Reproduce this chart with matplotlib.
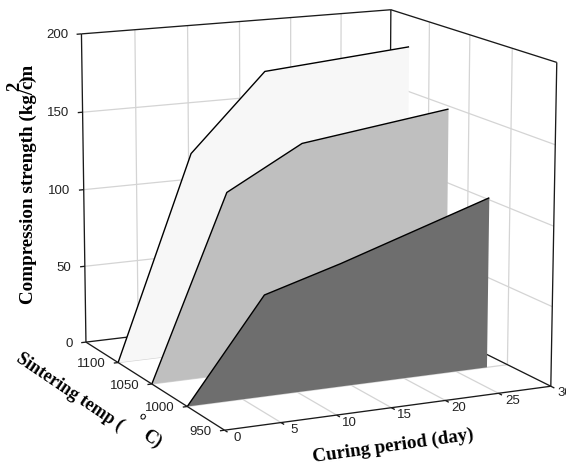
import numpy as np
import matplotlib
matplotlib.use("Agg")
import matplotlib.pyplot as plt
from mpl_toolkits.mplot3d.art3d import Poly3DCollection, Line3DCollection

# ---- data ----
curing_days = [0, 7, 14, 28]
strength_1100 = [0, 129, 177, 185]
strength_1050 = [0, 115, 141, 154]
strength_1000 = [0, 63, 77, 108]
series_temps = [1100, 1050, 1000]
temp_ticks = [950, 1000, 1050, 1100]
day_ticks = [0, 5, 10, 15, 20, 25, 30]
strength_ticks = [0, 50, 100, 150, 200]
series_colors = ["#F7F7F7", "#BFBFBF", "#6E6E6E"]

W, H = 566, 475
fig = plt.figure(figsize=(W / 100, H / 100), dpi=100, facecolor="white")
ax = fig.add_axes([0, -(W - H) / 2 / H, 1, W / H], projection="3d",
                  computed_zorder=False)
ax.set_axis_off()
ax.patch.set_alpha(0)
ax.apply_aspect()


def depth(t):
    """Depth axis position of a temperature (50 degree steps)."""
    return (t - 950) / 50.0


# ---- camera calibrated to the reference frame (data -> pixel) ----
calib = [
    (0, 4, 0, 86, 343), (0, 4, 200, 81, 34), (30, 4, 0, 388, 305),
    (30, 4, 200, 392, 10), (30, 0, 0, 551, 387), (30, 0, 200, 556, 62),
    (0, 0, 0, 224, 430), (0, 1, 0, 188, 406), (0, 3, 0, 118, 362),
    (15, 0, 0, 392, 408),
]
A, b = [], []
for x, y, z, u, v in calib:
    v = H - v
    A.append([x, y, z, 1, 0, 0, 0, 0, -u * x, -u * y, -u * z]); b.append(u)
    A.append([0, 0, 0, 0, x, y, z, 1, -v * x, -v * y, -v * z]); b.append(v)
p = np.linalg.lstsq(np.array(A, float), np.array(b, float), rcond=None)[0]
P = np.array([p[:4], p[4:8], [p[8], p[9], p[10], 1.0]])
T = ax.transData.inverted().get_matrix()
Q = T @ P
M = np.array([Q[0], Q[1], [0, 0.1, 0.001, 0.01], Q[2]])
ax.get_proj = lambda: M

GRID = "#D4D4D4"
FRAME = "#1A1A1A"
TICKC = "#222222"


def line(xs, ys, zs, c=FRAME, lw=0.95, zo=2):
    seg = Line3DCollection([list(zip(xs, ys, zs))], colors=c, linewidths=lw,
                           zorder=zo)
    ax.add_collection3d(seg, autolim=False)


# grids
for d in day_ticks[1:-1]:
    line([d, d], [4, 4], [0, 200], GRID, 0.9, 1)
    line([d, d], [0, 4], [0, 0], GRID, 0.9, 1)
for t in temp_ticks[1:]:
    k = depth(t)
    line([30, 30], [k, k], [0, 200], GRID, 0.9, 1)
    line([0, 30], [k, k], [0, 0], GRID, 0.9, 1)
for s in strength_ticks[1:-1]:
    line([0, 30], [4, 4], [s, s], GRID, 0.9, 1)
    line([30, 30], [0, 4], [s, s], GRID, 0.9, 1)

# back frame
line([0, 0], [4, 4], [0, 200], zo=2)
line([30, 30], [4, 4], [0, 200], zo=2)
line([30, 30], [0, 0], [0, 200], zo=2)
line([0, 30], [4, 4], [200, 200], zo=2)
line([30, 30], [0, 4], [200, 200], zo=2)
line([0, 30], [4, 4], [0, 0], zo=2)
line([30, 30], [0, 4], [0, 0], zo=2)

# series
all_series = [strength_1100, strength_1050, strength_1000]
for i, (t, vals, col) in enumerate(zip(series_temps, all_series, series_colors)):
    k = depth(t)
    verts = [(d, k, v) for d, v in zip(curing_days, vals)]
    verts += [(curing_days[-1], k, 0), (curing_days[0], k, 0)]
    poly = Poly3DCollection([verts], facecolors=col, edgecolors="none",
                            zorder=3 + 2 * i)
    ax.add_collection3d(poly, autolim=False)
    line(curing_days, [k] * len(vals), vals, "black", 1.0, 4 + 2 * i)

# front frame
line([0, 30], [0, 0], [0, 0], zo=10)
line([0, 0], [0, 4], [0, 0], zo=10)

# ticks and labels
tick_font = dict(family="Liberation Sans", fontsize=9.5, color=TICKC, zorder=12)
for s in strength_ticks:
    line([-0.45, 0], [4, 4], [s, s], zo=10)
    ax.text(-1.25, 4, s, str(s), ha="right", va="center", **tick_font)
for t in temp_ticks:
    k = depth(t)
    line([-0.4, 0], [k, k], [0, 0], zo=10)
    ax.text(-1.15, k, 0, str(t), ha="right", va="center", **tick_font)
for d in day_ticks:
    line([d, d], [-0.08, 0], [0, 0], zo=10)
    ax.text(d, -0.32, 0, str(d), ha="center", va="center", **tick_font)

# axis titles
title_font = dict(family="Liberation Serif", fontweight="bold", color="black")


def label(px, py, s, size=12, rot=0):
    fig.text(px / W, 1 - py / H, s, ha="center", va="center", rotation=rot,
             rotation_mode="anchor", fontsize=size, **title_font)


label(28, 184, "Compression strength (kg/cm", 13.7, 90)
label(15, 86, "2", 13.5, 90)
label(28, 79, ")", 13.5, 90)
label(70, 392, "Sintering temp (", 13, -34)
label(139, 421, "\N{DEGREE SIGN}", 13, -34)
label(152, 439, "C)", 13, -34)
label(393, 446, "Curing period (day)", 13.7, 8)

fig.savefig("out.png", dpi=100, facecolor="white")
